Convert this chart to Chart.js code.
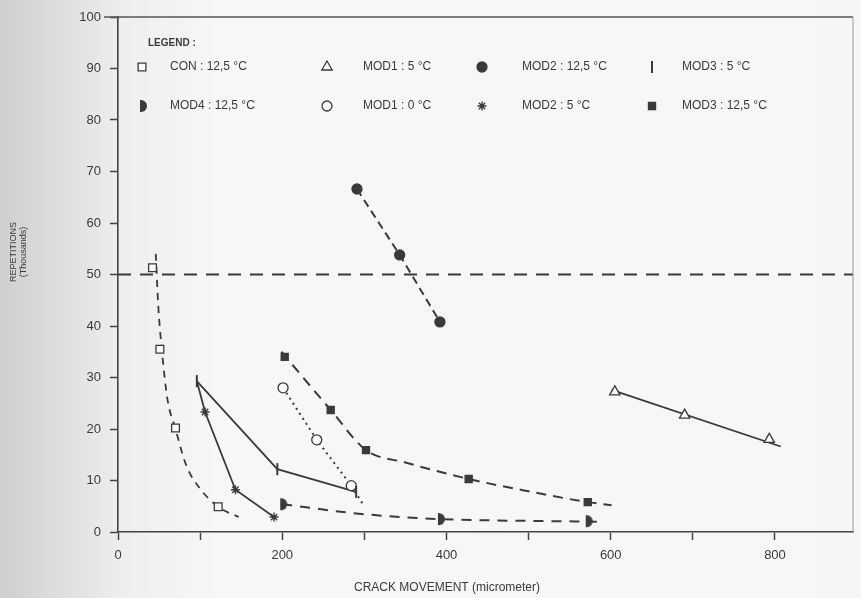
<!DOCTYPE html>
<html>
<head>
<meta charset="utf-8">
<script src="https://cdn.jsdelivr.net/npm/chart.js@4.4.0/dist/chart.umd.min.js"></script>
<style>
  html, body { margin: 0; padding: 0; background: #f4f4f4; }
  canvas { display: block; }
</style>
</head>
<body>
<canvas id="chart" width="861" height="598"></canvas>
<script>
// crack movement (micrometer) vs load repetitions (thousands)

// CON : 12,5 °C
const con125X = [42, 51, 70, 122];
const con125Y = [51.3, 35.5, 20.2, 4.9];
const con125FitX = [46, 49, 53, 60, 70, 83, 100, 122, 147];
const con125FitY = [54, 44, 36, 26, 20, 13, 8.4, 4.9, 2.9];

// MOD1 : 5 °C
const mod1at5X = [605, 690, 793];
const mod1at5Y = [27.2, 22.7, 18.0];
const mod1at5FitX = [601, 807];
const mod1at5FitY = [27.6, 16.6];

// MOD2 : 12,5 °C
const mod2at125X = [291, 343, 392];
const mod2at125Y = [66.6, 53.8, 40.8];

// MOD3 : 5 °C
const mod3at5X = [96, 194, 290];
const mod3at5Y = [29.3, 12.2, 7.8];

// MOD4 : 12,5 °C
const mod4at125X = [200, 392, 572];
const mod4at125Y = [5.4, 2.5, 2.1];
const mod4at125FitX = [200, 224, 284, 345, 392, 583];
const mod4at125FitY = [5.4, 4.9, 3.7, 2.9, 2.5, 2.0];

// MOD1 : 0 °C
const mod1at0X = [201, 242, 284];
const mod1at0Y = [28.0, 17.9, 9.0];
const mod1at0FitX = [201, 242, 284, 299];
const mod1at0FitY = [28.0, 17.9, 9.0, 5.2];

// MOD2 : 5 °C
const mod2at5X = [106, 143, 190];
const mod2at5Y = [23.3, 8.2, 2.9];
const mod2at5FitX = [96, 106, 143, 190];
const mod2at5FitY = [29.3, 23.3, 8.2, 2.9];

// MOD3 : 12,5 °C
const mod3at125X = [203, 259, 302, 427, 572];
const mod3at125Y = [34.0, 23.7, 15.9, 10.3, 5.8];
const mod3at125FitX = [199, 259, 302, 350, 427, 500, 572, 601];
const mod3at125FitY = [35, 23.7, 15.9, 13.5, 10.3, 7.9, 5.8, 5.2];

// 50 000 repetitions limit
const limitX = [0, 895];
const limitY = [50, 50];

const xTickMarks = [0, 100, 200, 300, 400, 500, 600, 700, 800];
const xTickLabels = [0, 200, 400, 600, 800];

const ink = '#3a3a3a';
const font = '"Liberation Sans", Arial, sans-serif';

const zip = (xs, ys) => xs.map((x, i) => ({x: x, y: ys[i]}));

// half filled circle marker for MOD4
const halfDot = document.createElement('canvas');
halfDot.width = 14;
halfDot.height = 14;
(function () {
    const c = halfDot.getContext('2d');
    c.fillStyle = ink;
    c.beginPath();
    c.arc(6, 7, 6, -Math.PI / 2, Math.PI / 2);
    c.closePath();
    c.fill();
    c.fillRect(5, 1, 2, 12);
})();

function points(label, xs, ys, style) {
    return Object.assign({
        label: label,
        data: zip(xs, ys),
        showLine: false,
        order: 0,
        pointBackgroundColor: '#fafafa',
        pointBorderColor: ink,
        pointBorderWidth: 1.3,
        pointRadius: 5
    }, style);
}

function curve(xs, ys, dash, width, smooth) {
    return {
        data: zip(xs, ys),
        showLine: true,
        order: 1,
        borderColor: ink,
        borderWidth: width,
        borderDash: dash,
        pointRadius: 0,
        cubicInterpolationMode: smooth ? 'monotone' : 'default',
        tension: 0
    };
}

const markerSets = [
    points('CON : 12,5 °C', con125X, con125Y, {pointStyle: 'rect', pointRadius: 5.5}),
    points('MOD1 : 5 °C', mod1at5X, mod1at5Y, {pointStyle: 'triangle', pointRadius: 6}),
    points('MOD2 : 12,5 °C', mod2at125X, mod2at125Y, {pointStyle: 'circle', pointBackgroundColor: ink, pointRadius: 5}),
    points('MOD3 : 5 °C', mod3at5X, mod3at5Y, {pointStyle: 'line', rotation: 90, pointRadius: 6, pointBorderWidth: 2}),
    points('MOD4 : 12,5 °C', mod4at125X, mod4at125Y, {pointStyle: halfDot}),
    points('MOD1 : 0 °C', mod1at0X, mod1at0Y, {pointStyle: 'circle', pointRadius: 5}),
    points('MOD2 : 5 °C', mod2at5X, mod2at5Y, {pointStyle: 'star', pointRadius: 4.5, pointBorderWidth: 1.4}),
    points('MOD3 : 12,5 °C', mod3at125X, mod3at125Y, {pointStyle: 'rect', pointBackgroundColor: ink, pointRadius: 5})
];

const lineSets = [
    curve(limitX, limitY, [13, 9], 2, false),
    curve(con125FitX, con125FitY, [7, 6], 1.8, true),
    curve(mod1at5FitX, mod1at5FitY, [], 1.8, false),
    curve(mod2at125X, mod2at125Y, [8, 5], 2, false),
    curve(mod3at5X, mod3at5Y, [], 1.8, false),
    curve(mod4at125FitX, mod4at125FitY, [10, 8], 2, true),
    curve(mod1at0FitX, mod1at0FitY, [2, 4], 2, false),
    curve(mod2at5FitX, mod2at5FitY, [], 1.8, false),
    curve(mod3at125FitX, mod3at125FitY, [10, 7], 2, true)
];

const paper = {
    id: 'paper',
    beforeDraw(chart) {
        const ctx = chart.ctx;
        const g = ctx.createLinearGradient(0, 0, chart.width, 0);
        g.addColorStop(0, '#cfcfcf');
        g.addColorStop(0.08, '#e0e0e0');
        g.addColorStop(0.14, '#eeeeee');
        g.addColorStop(0.25, '#f7f7f7');
        g.addColorStop(1, '#f6f6f6');
        ctx.save();
        ctx.fillStyle = g;
        ctx.fillRect(0, 0, chart.width, chart.height);
        ctx.restore();
    },
    afterDraw(chart) {
        const ctx = chart.ctx;
        const a = chart.chartArea;
        ctx.save();
        // frame on top and right
        ctx.strokeStyle = '#555';
        ctx.lineWidth = 1.5;
        ctx.beginPath();
        ctx.moveTo(104, a.top);
        ctx.lineTo(a.right, a.top);
        ctx.stroke();
        ctx.strokeStyle = '#999';
        ctx.lineWidth = 1;
        ctx.beginPath();
        ctx.moveTo(a.right, a.top);
        ctx.lineTo(a.right, a.bottom);
        ctx.stroke();

        // axis titles
        ctx.fillStyle = ink;
        ctx.textAlign = 'center';
        ctx.textBaseline = 'middle';
        ctx.font = '12px ' + font;
        ctx.fillText('CRACK MOVEMENT (micrometer)', 447, 588);
        ctx.save();
        ctx.translate(14, 252);
        ctx.rotate(-Math.PI / 2);
        ctx.font = '9px ' + font;
        ctx.fillText('REPETITIONS', 0, 0);
        ctx.fillText('(Thousands)', 0, 10);
        ctx.restore();

        // legend box in the plot
        ctx.textAlign = 'left';
        ctx.font = 'bold 10px ' + font;
        ctx.fillText('LEGEND :', 148, 43);
        ctx.font = '12px ' + font;
        const markX = [142, 327, 482, 652];
        const textX = [170, 363, 522, 682];
        const rowY = [67, 106];
        markerSets.forEach((ds, i) => {
            const col = i % 4;
            const y = rowY[Math.floor(i / 4)];
            ctx.fillStyle = ds.pointBackgroundColor;
            ctx.strokeStyle = ds.pointBorderColor;
            ctx.lineWidth = ds.pointBorderWidth;
            ctx.setLineDash([]);
            Chart.helpers.drawPoint(ctx, {
                pointStyle: ds.pointStyle,
                rotation: ds.rotation || 0,
                radius: ds.pointRadius,
                borderWidth: ds.pointBorderWidth
            }, markX[col], y);
            ctx.fillStyle = ink;
            ctx.fillText(ds.label, textX[col], y);
        });
        ctx.restore();
    }
};

new Chart(document.getElementById('chart'), {
    type: 'scatter',
    data: {datasets: markerSets.concat(lineSets)},
    options: {
        responsive: false,
        animation: false,
        events: [],
        layout: {padding: {left: 0, top: 17, right: 3, bottom: 0}},
        plugins: {legend: {display: false}, tooltip: {enabled: false}},
        scales: {
            x: {
                type: 'linear',
                min: 0,
                max: 895,
                afterBuildTicks: (s) => { s.ticks = xTickMarks.map(v => ({value: v})); },
                afterFit: (s) => { s.height = 66; },
                border: {color: '#444', width: 1.6},
                grid: {drawOnChartArea: false, tickLength: 8, tickColor: '#444', tickWidth: 1.5},
                ticks: {
                    padding: 8,
                    color: ink,
                    font: {family: font, size: 13},
                    maxRotation: 0,
                    autoSkip: false,
                    callback: (v) => xTickLabels.includes(v) ? String(v) : ''
                }
            },
            y: {
                type: 'linear',
                min: 0,
                max: 100,
                afterFit: (s) => { s.width = 118; },
                border: {color: '#444', width: 1.6},
                grid: {drawOnChartArea: false, tickLength: 8, tickColor: '#444', tickWidth: 1.5},
                ticks: {
                    stepSize: 10,
                    padding: 9,
                    color: ink,
                    font: {family: font, size: 13}
                }
            }
        }
    },
    plugins: [paper]
});
</script>
</body>
</html>
